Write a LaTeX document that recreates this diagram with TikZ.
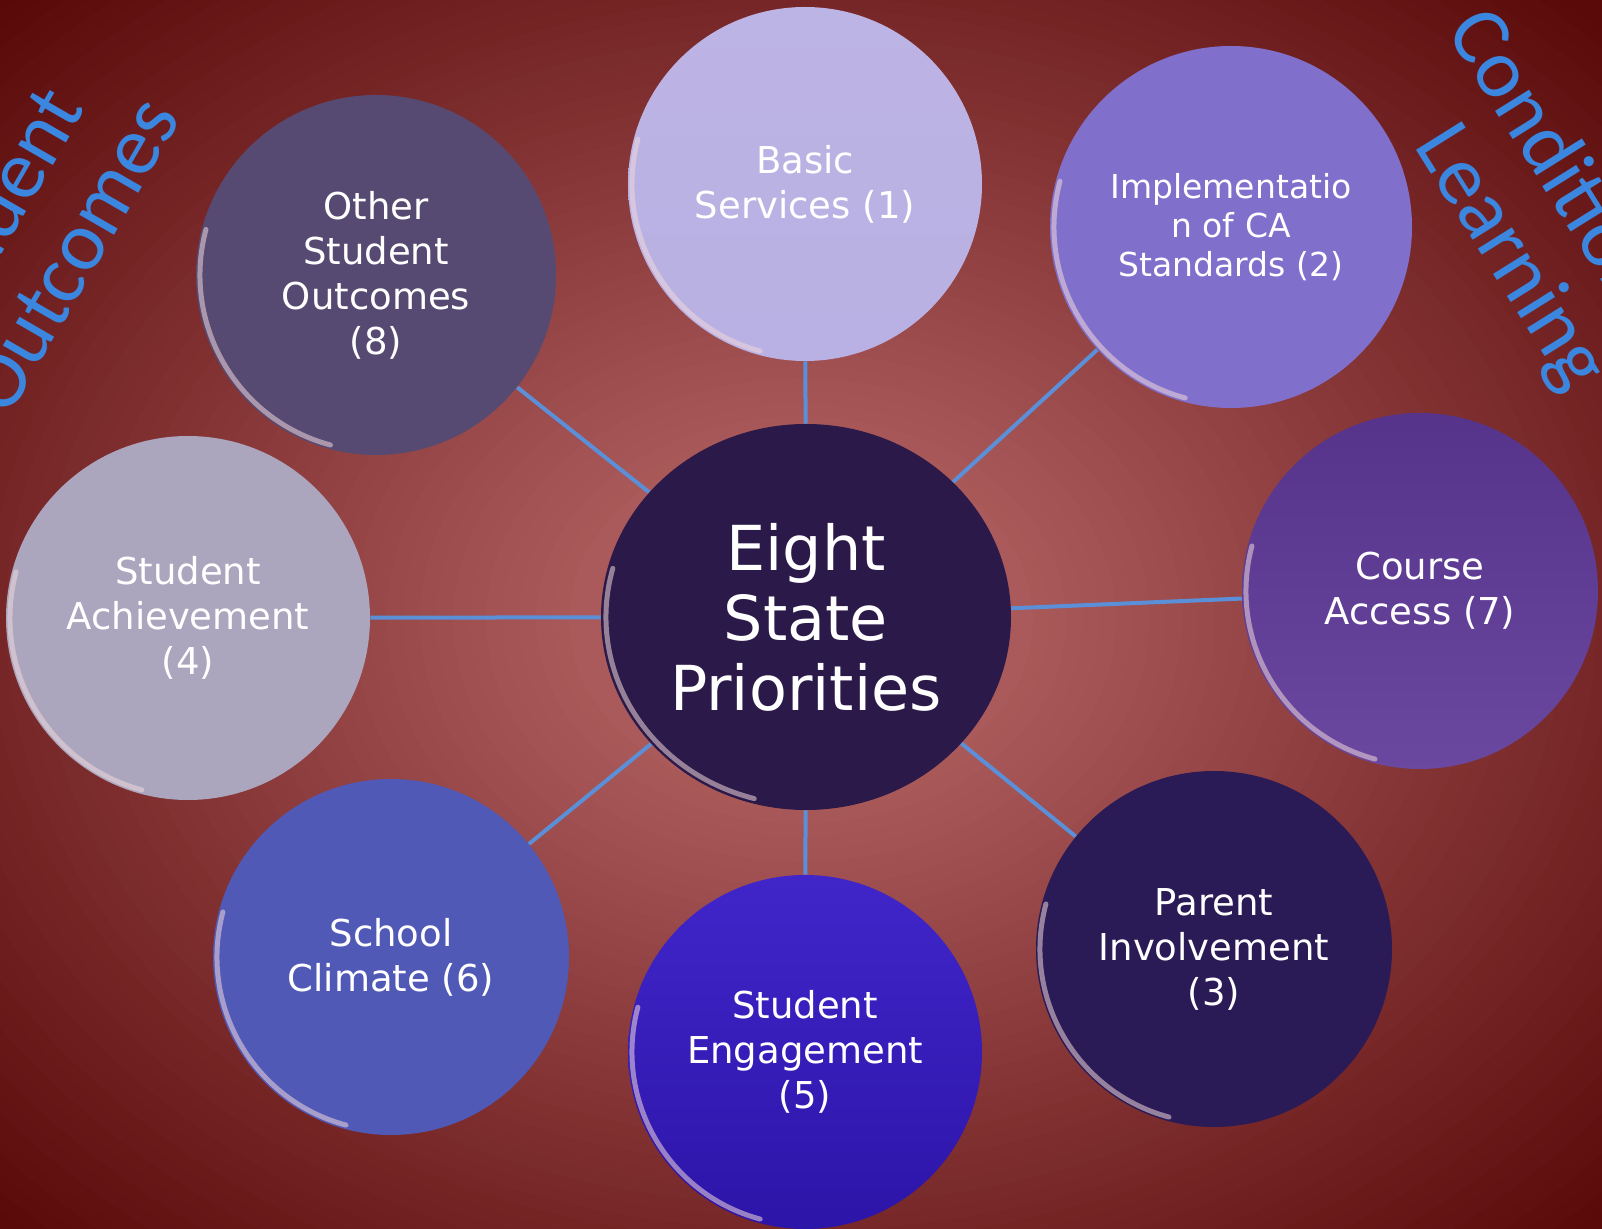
\documentclass[tikz,border=0pt]{standalone}
\usepackage{fontspec}
\usetikzlibrary{shapes.geometric}
\setmainfont{DejaVu Sans}
\newfontfamily\carlito{Carlito}
\definecolor{bgA}{HTML}{AA5A5A}
\definecolor{bgB}{HTML}{762626}
\definecolor{bgC}{HTML}{580707}
\definecolor{lineblue}{HTML}{5B8FD8}
\definecolor{cornerblue}{HTML}{3B86DF}
\definecolor{cBasic}{HTML}{B9B0E3}
\definecolor{cImpl}{HTML}{8070CC}
\definecolor{cCourse}{HTML}{5D3897}
\definecolor{cParent}{HTML}{2A1A56}
\definecolor{cEng}{HTML}{3418C6}
\definecolor{cSchool}{HTML}{5159B7}
\definecolor{cAch}{HTML}{ABA5BD}
\definecolor{cOther}{HTML}{574A72}
\definecolor{cCenter}{HTML}{2B1949}
\definecolor{rimc}{HTML}{F0D8DC}
\tikzset{
  bub/.style={circle, draw=none, text=white, align=center, inner sep=0pt,
    font=\fontsize{18.5}{22.5}\selectfont},
  conn/.style={draw=lineblue, line width=2pt},
  rim/.style={draw=rimc, opacity=0.55, line width=2.5pt, line cap=round},
  corner/.style={text=cornerblue, align=center, inner sep=0pt,
    font=\carlito\fontsize{42}{44}\selectfont}
}
\newcommand\rimarc[2]{\draw[rim] (#1.center) ++(165:#2) arc[start angle=165,end angle=255,radius=#2];}
\begin{document}
\begin{tikzpicture}[x=0.5pt,y=-0.5pt]
\useasboundingbox (0,0) rectangle (1602,1229);
\clip (0,0) rectangle (1602,1229);
\fill[bgC] (0,0) rectangle (1602,1229);
\foreach \i in {70,69,...,1}{
  \pgfmathsetmacro\r{\i/70}
  \pgfmathsetmacro\p{\r>0.7 ? (1-\r)/0.3*100 : (\r>0.2 ? (0.7-\r)/0.5*100 : 100)}
  \pgfmathsetmacro\q{\r>0.7 ? 1 : 0}
  \ifdim\q pt>0.5pt \colorlet{bgtmp}{bgB!\p!bgC}\else\colorlet{bgtmp}{bgA!\p!bgB}\fi
  \fill[bgtmp] (801,620) ellipse [x radius=1160*\r, y radius=890*\r];
}

\node[corner, rotate=60] (so) at (32,232) {Student\\Outcomes};
\node[corner, rotate=-58] (cl) at (1547,235) {Conditions of\\Learning};

\node[bub, ellipse, minimum width=205pt, minimum height=193pt, fill=cCenter, font=\fontsize{31}{35}\selectfont] (ctr) at (806,617) {Eight\\State\\Priorities};
\node[bub, minimum size=177pt, top color=cBasic!95!white, bottom color=cBasic] (bs) at (805,184) {Basic\\Services (1)};
\node[bub, minimum size=181pt, fill=cImpl, font=\fontsize{16.5}{19.5}\selectfont] (im) at (1231,227) {Implementatio\\n of CA\\Standards (2)};
\node[bub, minimum size=178pt, top color=cCourse!92!black, bottom color=cCourse!92!white] (ca) at (1420,591) {Course\\Access (7)};
\node[bub, minimum size=178pt, fill=cParent] (pi) at (1214,949) {Parent\\Involvement\\(3)};
\node[bub, minimum size=177pt, top color=cEng!94!white, bottom color=cEng!85!black] (se) at (805,1052) {Student\\Engagement\\(5)};
\node[bub, minimum size=178pt, fill=cSchool] (sc) at (391,957) {School\\Climate (6)};
\node[bub, minimum size=182pt, fill=cAch] (sa) at (188,618) {Student\\Achievement\\(4)};
\node[bub, minimum size=180pt, fill=cOther] (os) at (376,275) {Other\\Student\\Outcomes\\(8)};

\foreach \n in {bs,im,ca,pi,se,sc,sa,os} {\draw[conn] (ctr) -- (\n);}

\draw[rim] (ctr.center) ++(165:100pt and 94pt) arc[start angle=165,end angle=255,x radius=100pt,y radius=94pt];
\rimarc{bs}{86.5pt}
\rimarc{im}{88.5pt}
\rimarc{ca}{87pt}
\rimarc{pi}{87pt}
\rimarc{se}{86.5pt}
\rimarc{sc}{87pt}
\rimarc{sa}{89pt}
\rimarc{os}{88pt}
\end{tikzpicture}
\end{document}
